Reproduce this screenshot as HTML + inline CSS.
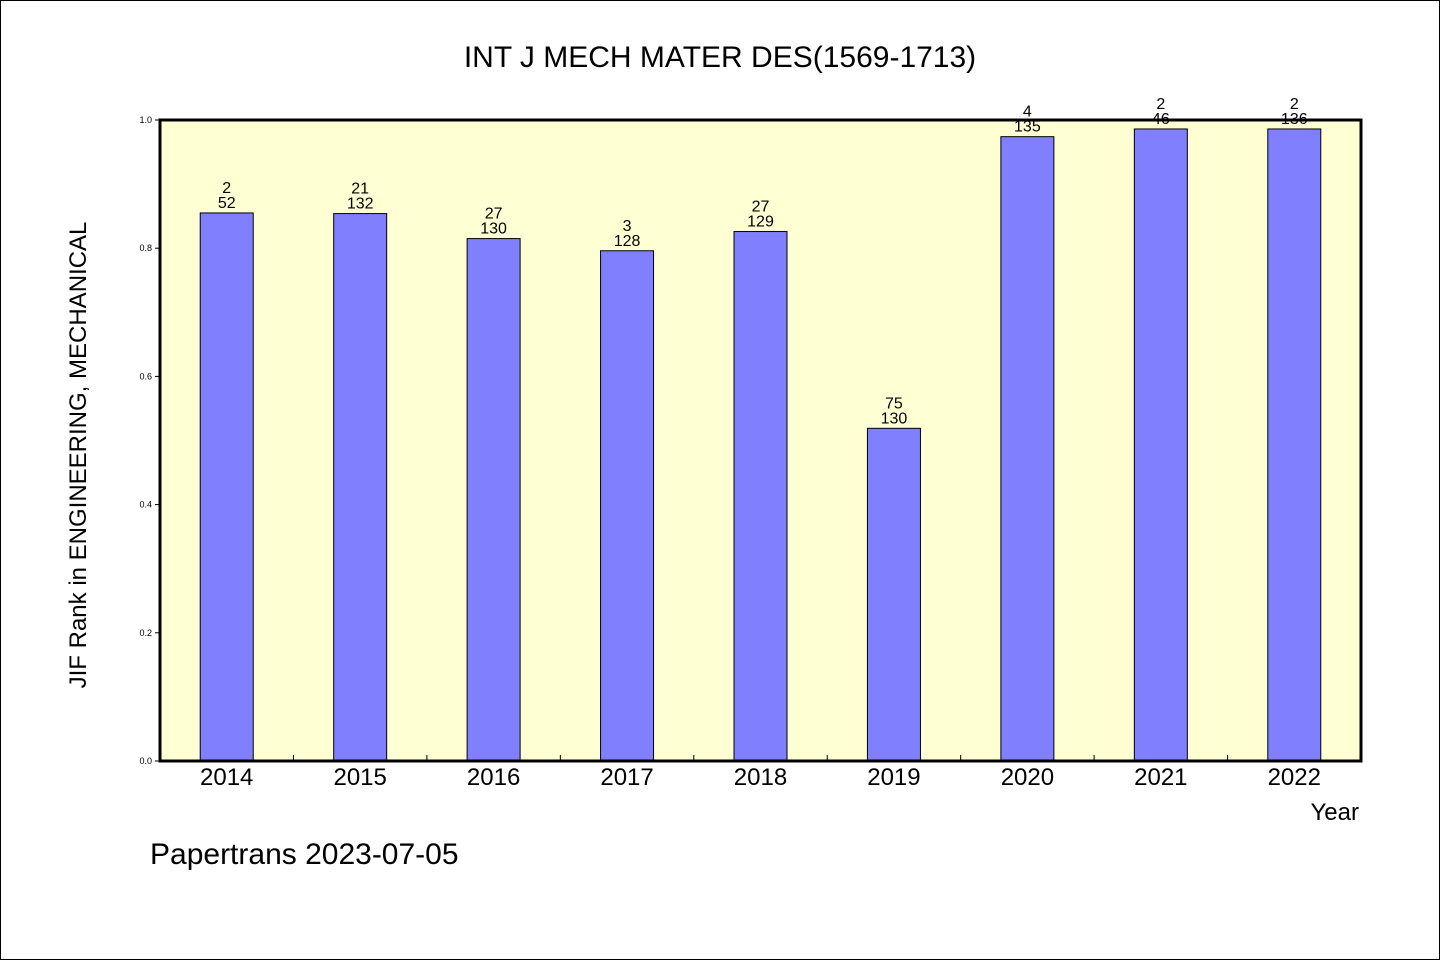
<!DOCTYPE html>
<html><head><meta charset="utf-8"><style>
html,body{margin:0;padding:0;background:#fff}
svg{display:block;font-family:"WenQuanYi Zen Hei","Liberation Sans",sans-serif}
</style></head><body>
<svg id="c" width="1440" height="960" viewBox="0 0 1440 960">
<rect x="0.5" y="0.5" width="1439" height="959" fill="#fff" stroke="#000"/>
<text x="720" y="67" text-anchor="middle" font-size="30">INT J MECH MATER DES(1569-1713)</text>
<rect x="160" y="120" width="1201" height="641" fill="#ffffd4"/>
<g id="bars"></g>
<g id="yaxis"></g>
<g id="xaxis"></g>
<rect x="160" y="120" width="1201" height="641" fill="none" stroke="#000" stroke-width="3"/>
<text x="1359" y="820" text-anchor="end" font-size="24">Year</text>
<text transform="translate(86,455) rotate(-90)" text-anchor="middle" font-size="24">JIF Rank in ENGINEERING, MECHANICAL</text>
<text x="150" y="864" font-size="30">Papertrans 2023-07-05</text>
</svg>
<script>
const years=["2014","2015","2016","2017","2018","2019","2020","2021","2022"];
const values=[0.855,0.854,0.815,0.796,0.826,0.519,0.974,0.986,0.986];
const ranks=["2","21","27","3","27","75","4","2","2"];
const totals=["52","132","130","128","129","130","135","46","136"];
const yTicks=[0,0.2,0.4,0.6,0.8,1.0];
const NS="http://www.w3.org/2000/svg";
const L=160,R=1361,T=120,B=761;
const step=(R-L)/years.length;
const xC=i=>L+step*(i+0.5);
const yS=v=>B-(B-T)*v;
function mk(t,a,p){const e=document.createElementNS(NS,t);for(const k in a)e.setAttribute(k,a[k]);p.appendChild(e);return e;}
const bars=document.getElementById('bars'),ya=document.getElementById('yaxis'),xa=document.getElementById('xaxis');
years.forEach((y,i)=>{
 const r=mk('rect',{x:xC(i)-26.5,y:yS(values[i]),width:53,height:B-yS(values[i]),fill:'#8080ff',stroke:'#000','stroke-width':1},bars);
 
 
 const t1=mk('text',{x:xC(i),y:yS(values[i])-20,'text-anchor':'middle','font-size':16},bars);t1.textContent=ranks[i];
 
 
 const t2=mk('text',{x:xC(i),y:yS(values[i])-5,'text-anchor':'middle','font-size':16},bars);t2.textContent=totals[i];
 
 
 const xl=mk('text',{x:xC(i),y:785,'text-anchor':'middle','font-size':24},xa);xl.textContent=y;
 
 
 if(i>0){const tk=mk('line',{x1:L+step*i,x2:L+step*i,y1:B,y2:B-6,stroke:'#000'},xa);
 
 }
});
yTicks.forEach(v=>{
 const tk=mk('line',{x1:L-5,x2:L,y1:yS(v),y2:yS(v),stroke:'#000'},ya);
 
 
 const t=mk('text',{x:L-8,y:yS(v)+3,'text-anchor':'end','font-size':9},ya);t.textContent=v.toFixed(1);
 
 
});
</script>
</body></html>
